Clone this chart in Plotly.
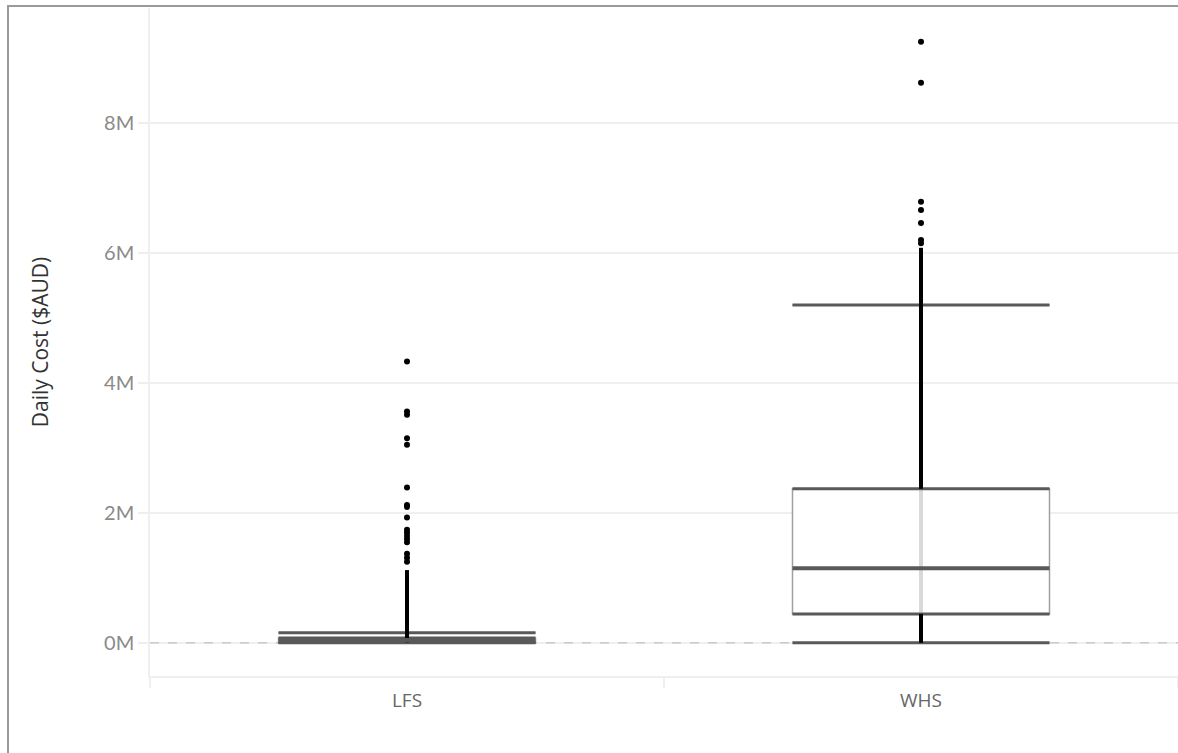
import plotly.graph_objects as go

# ---------------- data ----------------
categories = ["LFS", "WHS"]
lower_whisker = [0.0, 0.0]
q1_values = [0.005e6, 0.446e6]
median_values = [0.03e6, 1.15e6]
q3_values = [0.075e6, 2.37e6]
upper_whisker = [0.155e6, 5.2e6]
# top of the continuous (densely packed) column of daily points
dense_top = [1.12e6, 6.08e6]
# individually visible points above the dense column
lfs_outliers = [4.33e6, 3.56e6, 3.51e6, 3.15e6, 3.05e6, 2.39e6, 2.12e6, 2.09e6,
                1.93e6, 1.74e6, 1.70e6, 1.65e6, 1.60e6, 1.55e6, 1.37e6, 1.31e6, 1.25e6]
whs_outliers = [9.25e6, 8.62e6, 6.79e6, 6.66e6, 6.46e6, 6.20e6, 6.15e6]
y_tick_values = [0, 2e6, 4e6, 6e6, 8e6]
y_tick_labels = ["0M", "2M", "4M", "6M", "8M"]
x_range = [-0.5, 1.5]

# ---------------- styling ----------------
BOX_W = 0.5
DARK = "#595959"
GRID = "#efefef"
xpos = list(range(len(categories)))

fig = go.Figure()

# dashed zero reference line (behind the boxes)
fig.add_trace(go.Scatter(x=x_range, y=[0, 0], mode="lines",
                         line=dict(color="#b8b8b8", width=1, dash="dash"),
                         hoverinfo="skip", showlegend=False))

# box bodies (library box with precomputed statistics)
fig.add_trace(go.Box(
    x=xpos, q1=q1_values, median=median_values, q3=q3_values,
    lowerfence=lower_whisker, upperfence=upper_whisker,
    width=BOX_W, whiskerwidth=1, boxpoints=False,
    line=dict(color="#a0a0a0", width=1.5), fillcolor="white",
    hoverinfo="skip", showlegend=False,
))

# points seen through the box fill (light grey)
gx, gy = [], []
for i in xpos:
    gx += [i, i, None]
    gy += [q1_values[i], q3_values[i], None]
fig.add_trace(go.Scatter(x=gx, y=gy, mode="lines",
                         line=dict(color="#d9d9d9", width=4),
                         hoverinfo="skip", showlegend=False))

# dark horizontal lines: whisker caps, quartiles, median
def hlines(vals, width):
    xs, ys = [], []
    for i in xpos:
        xs += [i - BOX_W / 2, i + BOX_W / 2, None]
        ys += [vals[i], vals[i], None]
    return go.Scatter(x=xs, y=ys, mode="lines", line=dict(color=DARK, width=width),
                      hoverinfo="skip", showlegend=False)

for vals in (lower_whisker, q1_values, q3_values, upper_whisker):
    fig.add_trace(hlines(vals, 3))
fig.add_trace(hlines(median_values, 4))

# dense column of daily points (outside the box)
bx, by = [], []
for i in xpos:
    bx += [i, i, None, i, i, None]
    by += [lower_whisker[i], q1_values[i], None, q3_values[i], dense_top[i], None]
fig.add_trace(go.Scatter(x=bx, y=by, mode="lines",
                         line=dict(color="black", width=4),
                         hoverinfo="skip", showlegend=False))

# individually visible points
fig.add_trace(go.Scatter(
    x=[0] * len(lfs_outliers) + [1] * len(whs_outliers),
    y=lfs_outliers + whs_outliers, mode="markers",
    marker=dict(color="black", size=6), showlegend=False,
))

# ---------------- layout ----------------
L, R, T, B = 150, 0, 8, 77
W, H = 1178, 753
pw, ph = W - L - R, H - T - B

def px_x(px):
    return (px - L) / pw

def px_y(py):
    return (H - B - py) / ph

shapes = [
    # outer frame (right/bottom edges lie outside the picture)
    dict(type="rect", xref="paper", yref="paper",
         x0=px_x(8), x1=px_x(W + 20), y0=px_y(H + 20), y1=px_y(6),
         line=dict(color="#9a9a9a", width=2), fillcolor="rgba(0,0,0,0)", layer="above"),
]

fig.update_layout(
    width=W, height=H,
    margin=dict(l=L, r=R, t=T, b=B),
    paper_bgcolor="white", plot_bgcolor="white",
    shapes=shapes,
    xaxis=dict(
        range=x_range, tickvals=xpos, ticktext=categories,
        showgrid=False, zeroline=False, showline=True, linecolor=GRID, linewidth=1.5,
        ticks="", ticklabelstandoff=6,
        tickfont=dict(family="Open Sans", size=19, color="#666666"),
        minor=dict(tickvals=[-0.5, 0.5, 1.5], ticks="outside", ticklen=10,
                   tickcolor=GRID, tickwidth=1.5, showgrid=False),
    ),
    yaxis=dict(
        range=[-0.51e6, 9.77e6], tickvals=y_tick_values, ticktext=y_tick_labels,
        showgrid=True, gridcolor=GRID, gridwidth=1.5, zeroline=False,
        showline=True, linecolor=GRID, linewidth=1.5,
        ticks="outside", ticklen=10, tickcolor=GRID, tickwidth=1.5,
        tickfont=dict(family="Lato", size=20, color="#8a8a8a"),
        title=dict(text="Daily Cost ($AUD)", standoff=50,
                   font=dict(family="Open Sans", size=21, color="#333333")),
    ),
)

fig.write_html("out.html", config={"displayModeBar": False},
               post_script="document.body.style.margin='0';")
